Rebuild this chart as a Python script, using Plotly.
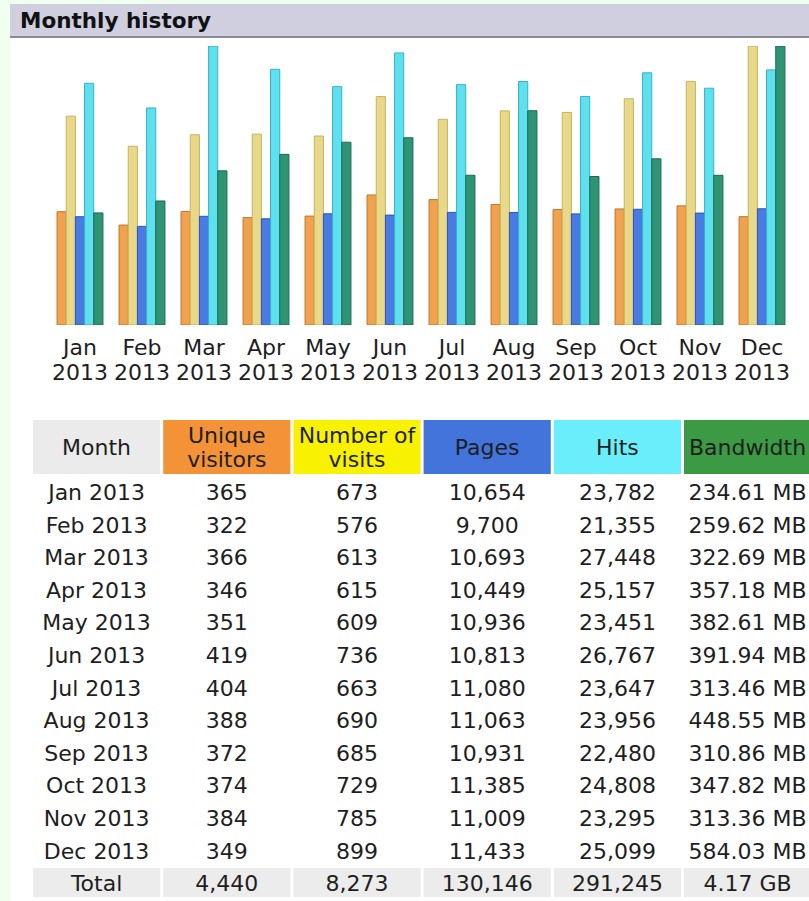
import plotly.graph_objects as go

months = ["Jan", "Feb", "Mar", "Apr", "May", "Jun", "Jul", "Aug", "Sep", "Oct", "Nov", "Dec"]
year = "2013"
unique_visitors = [365, 322, 366, 346, 351, 419, 404, 388, 372, 374, 384, 349]
visits = [673, 576, 613, 615, 609, 736, 663, 690, 685, 729, 785, 899]
pages = [10654, 9700, 10693, 10449, 10936, 10813, 11080, 11063, 10931, 11385, 11009, 11433]
hits = [23782, 21355, 27448, 25157, 23451, 26767, 23647, 23956, 22480, 24808, 23295, 25099]
bandwidth_mb = [234.61, 259.62, 322.69, 357.18, 382.61, 391.94, 313.46, 448.55, 310.86, 347.82, 313.36, 584.03]
totals = ["Total", "4,440", "8,273", "130,146", "291,245", "4.17 GB"]
headers = [["Month"], ["Unique", "visitors"], ["Number of", "visits"], ["Pages"], ["Hits"], ["Bandwidth"]]
header_colors = ["#ebebeb", "#f39237", "#f8f200", "#4374dc", "#6aeefc", "#3c9a44"]

W, H = 809, 901
FONT = "DejaVu Sans"
TXT = "#1e1e1e"

def px_x(x):
    return x / W

def px_y(y):
    return 1 - y / H

# AWStats-style scaling: visitors & visits share one max, pages & hits share one, bandwidth its own
vmax = max(max(unique_visitors), max(visits))
hmax = max(max(pages), max(hits))
bmax = max(bandwidth_mb)

series = [
    ("Unique visitors", [v / vmax for v in unique_visitors], "#f0a24e", "#c0762a"),
    ("Number of visits", [v / vmax for v in visits], "#e8d888", "#c4b460"),
    ("Pages", [v / hmax for v in pages], "#4a7ae4", "#2c56b4"),
    ("Hits", [v / hmax for v in hits], "#5fe0ee", "#34b4c4"),
    ("Bandwidth", [v / bmax for v in bandwidth_mb], "#2e9474", "#1c6a52"),
]

fig = go.Figure()
for name, vals, col, edge in series:
    fig.add_trace(go.Bar(
        x=months, y=vals, name=name,
        marker=dict(color=col, line=dict(color=edge, width=1)),
        hoverinfo="skip", xaxis="x", yaxis="y",
    ))

# ---------- table (drawn on its own axes: x = column index, y = row index) ----------
def fmt_int(v):
    return f"{v:,}"

columns = [
    [f"{m} {year}" for m in months],
    [fmt_int(v) for v in unique_visitors],
    [fmt_int(v) for v in visits],
    [fmt_int(v) for v in pages],
    [fmt_int(v) for v in hits],
    [f"{v:.2f} MB" for v in bandwidth_mb],
]
n = len(months)

ROW_PX = 32.6
HEADER_ROWS = 54 / ROW_PX           # header height in row units
HDR_TOP = -0.55 - HEADER_ROWS       # top edge of header (row units)
HDR_BOT = -0.55
HDR_MID = (HDR_TOP + HDR_BOT) / 2
LINE_OFF = 12 / ROW_PX              # half line spacing of two-line headers
TEXT_DY = 2.5 / ROW_PX              # optical baseline correction for text
GAP = 1.5 / 130.2                   # half white gap between cells (column units)

tx, ty, tt = [], [], []
for c, col in enumerate(columns):
    for r, val in enumerate(col):
        tx.append(c); ty.append(r + TEXT_DY); tt.append(val)
    tx.append(c); ty.append(n + TEXT_DY); tt.append(totals[c])
    lines = headers[c]
    if len(lines) == 1:
        tx.append(c); ty.append(HDR_MID + TEXT_DY); tt.append(lines[0])
    else:
        tx.append(c); ty.append(HDR_MID - LINE_OFF + TEXT_DY); tt.append(lines[0])
        tx.append(c); ty.append(HDR_MID + LINE_OFF + TEXT_DY); tt.append(lines[1])

fig.add_trace(go.Scatter(
    x=tx, y=ty, text=tt, mode="text", textposition="middle center",
    textfont=dict(family=FONT, size=22, color=TXT),
    hoverinfo="skip", xaxis="x2", yaxis="y2", cliponaxis=False,
))

shapes = [
    # page background strips
    dict(type="rect", xref="paper", yref="paper", x0=0, x1=px_x(10), y0=0, y1=1,
         fillcolor="#f0fff0", line=dict(width=0), layer="below"),
    dict(type="rect", xref="paper", yref="paper", x0=0, x1=1, y0=px_y(4), y1=1,
         fillcolor="#f0fff0", line=dict(width=0), layer="below"),
    # title bar
    dict(type="rect", xref="paper", yref="paper", x0=px_x(10), x1=1, y0=px_y(37), y1=px_y(4),
         fillcolor="#cfcfe0", line=dict(width=0), layer="below"),
    dict(type="line", xref="paper", yref="paper", x0=px_x(10), x1=1, y0=px_y(37), y1=px_y(37),
         line=dict(color="#8a8a96", width=2)),
]
for c in range(len(columns)):
    shapes.append(dict(type="rect", xref="x2", yref="y2",
                       x0=c - 0.5 + GAP, x1=c + 0.5 - GAP, y0=HDR_TOP, y1=HDR_BOT,
                       fillcolor=header_colors[c], line=dict(width=0), layer="below"))
    shapes.append(dict(type="rect", xref="x2", yref="y2",
                       x0=c - 0.5 + GAP, x1=c + 0.5 - GAP, y0=n - 0.47, y1=n + 0.42,
                       fillcolor="#ececec", line=dict(width=0), layer="below"))

annotations = [dict(
    text="<b>Monthly history</b>", xref="paper", yref="paper",
    x=px_x(18), y=px_y(20), xanchor="left", yanchor="middle",
    showarrow=False, font=dict(family=FONT, size=21.5, color="#111111"),
)]
for i, m in enumerate(months):
    annotations.append(dict(
        text=year, xref="x", yref="paper", x=m, y=px_y(372),
        xanchor="center", yanchor="middle", showarrow=False,
        font=dict(family=FONT, size=22, color=TXT),
    ))

table_left, pitch = 31.5, 130.2
table_range_right = (W - table_left) / pitch - 0.5
bottom_rows = (H - 492) / ROW_PX

fig.update_layout(
    width=W, height=H,
    margin=dict(l=0, r=0, t=0, b=0),
    paper_bgcolor="#ffffff",
    plot_bgcolor="rgba(0,0,0,0)",
    showlegend=False,
    barmode="group",
    bargap=0.26,
    bargroupgap=0,
    shapes=shapes,
    annotations=annotations,
    xaxis=dict(
        domain=[px_x(49), px_x(793)],
        anchor="y",
        showgrid=False, zeroline=False, showline=False, ticks="",
        tickfont=dict(family=FONT, size=22, color=TXT),
        ticklabelstandoff=7,
    ),
    yaxis=dict(domain=[px_y(325), px_y(46)], range=[0, 1], visible=False),
    xaxis2=dict(domain=[px_x(table_left), 1], range=[-0.5, table_range_right],
                anchor="y2", visible=False),
    yaxis2=dict(domain=[0, px_y(492 + HDR_TOP * ROW_PX)], range=[bottom_rows, HDR_TOP],
                anchor="x2", visible=False),
)

fig.write_html(
    "out.html",
    config={"displayModeBar": False},
    post_script="document.body.style.margin='0px';document.body.style.padding='0px';",
)
